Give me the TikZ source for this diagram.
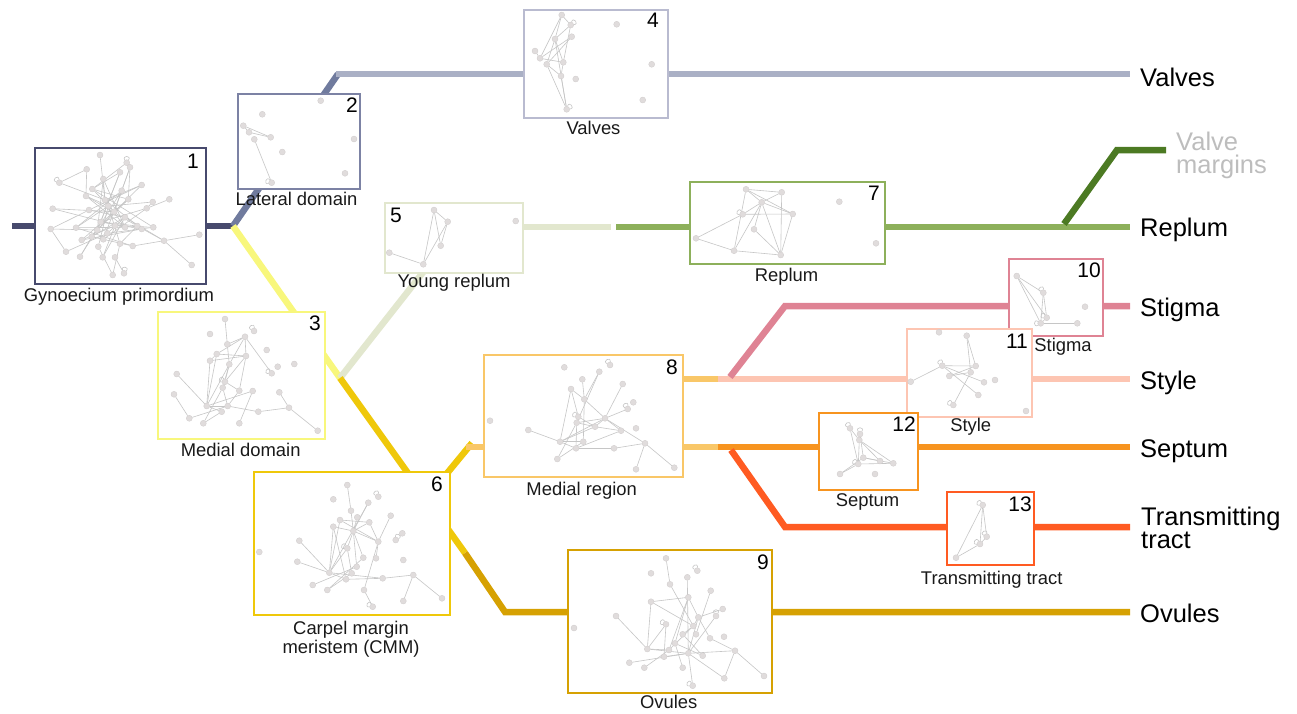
\documentclass[tikz,border=0pt]{standalone}
\usepackage{fontspec}
\setmainfont{Liberation Sans}
\usetikzlibrary{calc}

\definecolor{cNavy}{HTML}{474A6D}
\definecolor{cSlate}{HTML}{707B9E}
\definecolor{cSlateBox}{HTML}{7C82A4}
\definecolor{cValve}{HTML}{AAB0C5}
\definecolor{cValveBox}{HTML}{B9BBD0}
\definecolor{cYel}{HTML}{F8F77C}
\definecolor{cYoung}{HTML}{E2E7CE}
\definecolor{cGreen}{HTML}{8DB05B}
\definecolor{cDkGreen}{HTML}{4C7A23}
\definecolor{cGold}{HTML}{EFC80A}
\definecolor{cLtOr}{HTML}{F9C768}
\definecolor{cDkGold}{HTML}{D6A102}
\definecolor{cPink}{HTML}{DF8394}
\definecolor{cSalmon}{HTML}{FDC5B2}
\definecolor{cOrange}{HTML}{F7941F}
\definecolor{cRedOr}{HTML}{FF5B22}
\definecolor{cFaint}{HTML}{BDBDBD}
\definecolor{nodefill}{HTML}{E0DCDC}
\definecolor{nodeline}{HTML}{CFCBCB}
\definecolor{edgegray}{HTML}{C6C6C6}

\pgfdeclarelayer{links}
\pgfdeclarelayer{frames}
\pgfdeclarelayer{netedges}
\pgfsetlayers{links,frames,netedges,main}

\tikzset{
  link/.style={line width=6.5pt, line join=miter},
  stage/.style={draw, fill=white, line width=2pt, inner sep=0pt, anchor=north west},
  gn/.style={circle, fill=nodefill, draw=nodeline, line width=0.3pt, minimum size=6pt, inner sep=0pt},
  ge/.style={draw=edgegray, line width=0.6pt},
  capt/.style={font=\fontsize{18.4}{19}\selectfont, anchor=base, inner sep=0pt, text=black!90},
  stagenum/.style={font=\fontsize{21}{21}\selectfont, inner sep=0pt, text=black},
  tissue/.style={font=\fontsize{25.5}{23}\selectfont, anchor=base west, inner sep=0pt, align=left, text=black}
}

% network helpers: nodes, straight edges, self loops (names are <prefix>-<index>)
\newcommand\netnodes[2]{\foreach \i/\x/\y in {#2} {\node[gn] (#1-\i) at (\x,\y) {};}}
\newcommand\netlinks[2]{\begin{pgfonlayer}{netedges}\foreach \p/\q in {#2} {\draw[ge] (#1-\p) -- (#1-\q);}\end{pgfonlayer}}
\newcommand\netloops[2]{\begin{pgfonlayer}{netedges}\foreach \p/\a in {#2} {\pgfmathtruncatemacro\ao{\a-35}\pgfmathtruncatemacro\ai{\a+35}\draw[ge] (#1-\p) to[out=\ao,in=\ai,min distance=6pt] (#1-\p);}\end{pgfonlayer}}

\begin{document}
\begin{tikzpicture}[x=1pt,y=-1pt]
\useasboundingbox (0,0) rectangle (1297,713);

% ---------- stage frames ----------
\begin{pgfonlayer}{frames}
\node[stage, draw=cNavy, minimum width=171pt, minimum height=136pt] (b1) at (34,147) {};
\node[stage, draw=cSlateBox, minimum width=122pt, minimum height=95pt] (b2) at (237,93) {};
\node[stage, draw=cYel, minimum width=167pt, minimum height=127pt] (b3) at (157,311) {};
\node[stage, draw=cValveBox, minimum width=144pt, minimum height=108pt] (b4) at (523,9) {};
\node[stage, draw=cYoung, minimum width=138pt, minimum height=70pt] (b5) at (384,202) {};
\node[stage, draw=cGold, minimum width=196pt, minimum height=143pt] (b6) at (253,471) {};
\node[stage, draw=cGreen, minimum width=195pt, minimum height=82pt] (b7) at (689,181) {};
\node[stage, draw=cLtOr, minimum width=199pt, minimum height=122pt] (b8) at (483,354) {};
\node[stage, draw=cDkGold, minimum width=204pt, minimum height=143pt] (b9) at (567,549) {};
\node[stage, draw=cPink, minimum width=94pt, minimum height=77pt] (b10) at (1008,258) {};
\node[stage, draw=cSalmon, minimum width=125pt, minimum height=88pt] (b11) at (906,328) {};
\node[stage, draw=cOrange, minimum width=99pt, minimum height=77pt] (b12) at (818,412) {};
\node[stage, draw=cRedOr, minimum width=87pt, minimum height=73pt] (b13) at (946,491) {};
\end{pgfonlayer}

% ---------- lineage connectors ----------
\coordinate (s0) at (12,226);
\coordinate (j1) at (233,226);
\coordinate (v0) at (338,74);
\coordinate (v1) at (336,74);
\coordinate (vE) at (1130,74);
\coordinate (j2) at (340,378);
\coordinate (y1) at (428,266);
\coordinate (y2) at (500,227);
\coordinate (y3) at (611,227);
\coordinate (r0) at (616,227);
\coordinate (rE) at (1130,227);
\coordinate (m0) at (1064,224);
\coordinate (m1) at (1117,150);
\coordinate (mE) at (1166,150);
\coordinate (g1) at (465,553);
\coordinate (g2) at (505,612);
\coordinate (oE) at (1130,612);
\coordinate (u0) at (430,494);
\coordinate (u1) at (472,443);
\coordinate (u2) at (466,447);
\coordinate (u3) at (500,447);
\coordinate (h0) at (660,379);
\coordinate (h1) at (718,379);
\coordinate (h2) at (660,447);
\coordinate (h3) at (718,447);
\coordinate (p0) at (730,377);
\coordinate (p1) at (785,306);
\coordinate (pE) at (1130,306);
\coordinate (sE) at (1130,379);
\coordinate (oS) at (1130,447);
\coordinate (t0) at (731,450);
\coordinate (t1) at (785,527);
\coordinate (tE) at (1130,527);

\begin{pgfonlayer}{links}
\draw[link, cNavy] (s0) -- (j1);
\draw[link, cSlate] (j1) -- (v0);
\draw[link, cValve] (v1) -- (vE);
\draw[link, cYel] (j1) -- (j2);
\draw[link, cYoung] (j2) -- (y1);
\draw[link, cYoung] (y2) -- (y3);
\draw[link, cGreen] (r0) -- (rE);
\draw[link, cDkGreen] (m0) -- (m1) -- (mE);
\draw[link, cGold] (j2) -- (g1);
\draw[link, cDkGold] (g1) -- (g2) -- (oE);
\draw[link, cGold] (u0) -- (u1);
\draw[link, cLtOr] (u2) -- (u3);
\draw[link, cLtOr] (h0) -- (h1);
\draw[link, cLtOr] (h2) -- (h3);
\draw[link, cSalmon] (h1) -- (sE);
\draw[link, cOrange] (h3) -- (oS);
\draw[link, cPink] (p0) -- (p1) -- (pE);
\draw[link, cRedOr] (t0) -- (t1) -- (tE);
\end{pgfonlayer}

% ---------- 1: gynoecium primordium ----------
\netnodes{gp}{1/100/155, 2/126.7/162.7, 3/130/167.3, 4/86.7/169.3, 5/59.3/182.7, 6/103.3/179, 7/120/172.3, 8/141.7/185, 9/92.3/189, 10/121.7/190.7, 11/86/196, 12/105/200, 13/128.3/199.3, 14/152.7/202, 15/169.3/199.3, 16/52.7/208.7, 17/146.7/208.3, 18/89/210, 19/108.3/206, 20/125/217.3, 21/114.3/211.7, 22/100.7/222, 23/115/225.7, 24/125/227.3, 25/137.3/226, 26/153.3/227.3, 27/50.7/229, 28/76/227.7, 29/97.3/230, 30/107.3/233.3, 31/141.7/229, 32/81.7/240, 33/91.7/236.7, 34/103.3/239.3, 35/120/243.7, 36/132.7/246, 37/164/240.7, 38/199.3/234.7, 39/66/251.7, 40/80/256.7, 41/98.3/246.7, 42/102.7/257.3, 43/115/257.3, 44/191.7/265, 45/112.7/275, 46/124/273.3}
\netlinks{gp}{1/12, 4/5, 3/13, 3/10, 7/9, 7/22, 6/12, 6/29, 8/21, 8/18, 8/12, 14/19, 14/17, 16/24, 16/21, 27/29, 27/39, 27/18, 28/36, 28/24, 32/23, 33/36, 36/38, 37/44, 37/25, 39/30, 40/22, 41/45, 42/20, 43/46, 9/26, 10/40, 11/25, 13/32, 17/34, 19/41, 20/33, 21/9, 22/31, 23/26, 24/11, 26/30, 29/13, 30/20, 31/32, 34/10, 35/19, 35/25, 12/24, 18/20, 2/9, 3/21, 6/24, 7/29, 10/28, 12/31, 19/28, 22/25, 9/13, 11/19, 15/17, 17/22, 20/37, 21/29, 4/11, 5/12, 45/35, 42/23}
\netloops{gp}{2/90, 5/130, 46/80}

% ---------- 2: lateral domain ----------
\netnodes{ld}{1/320.7/100.7, 2/262.3/114.3, 3/243.3/125.7, 4/249/132.3, 5/270.7/137.3, 6/254.3/139.3, 7/282.3/152, 8/354/139, 9/345/173.3, 10/271.7/182.7}
\netlinks{ld}{3/5, 4/5, 3/4, 6/10}
\netloops{ld}{10/160}

% ---------- 3: medial domain ----------
\netnodes{md}{1/225/319, 2/210/334, 3/254/331, 4/245/336.7, 5/227.3/344.3, 6/266.7/350, 7/216.7/354, 8/210/360.7, 9/246/356, 10/229.3/364.3, 11/277.7/366.7, 12/294.3/364, 13/271.7/373.3, 14/176.7/374, 15/225/381.7, 16/222.7/387.7, 17/239.3/390.7, 18/252.7/391, 19/279.3/392.3, 20/174/394.3, 21/206.7/406, 22/227.7/406, 23/221.7/411.7, 24/258.3/411.7, 25/289/407.7, 26/189.3/418.3, 27/203.3/423.3, 28/239.3/423.3, 29/317.7/430.7}
\netlinks{md}{1/5, 5/10, 4/7, 4/9, 4/10, 4/13, 7/9, 8/9, 7/21, 8/21, 9/15, 10/21, 10/16, 14/21, 20/26, 21/18, 21/22, 21/23, 22/26, 23/27, 22/24, 24/25, 25/19, 25/29, 18/28, 15/17, 16/27, 17/22, 9/17, 7/8, 16/22, 5/4, 10/15}
\netloops{md}{3/120, 13/150, 15/150}

% ---------- 4: valves ----------
\netnodes{va}{1/561.7/15, 2/570.7/25, 3/555/39, 4/571.7/36.7, 5/535/51, 6/540/58.3, 7/546.7/64.3, 8/563.3/62.3, 9/561/76, 10/575.7/79, 11/566.7/109.3, 12/616.7/24.3, 13/651.7/64.3, 14/642.7/100}
\netlinks{va}{1/2, 1/3, 1/6, 2/3, 2/8, 3/7, 3/8, 4/7, 5/6, 6/8, 7/9, 7/11, 8/9, 9/11, 3/11, 4/6}
\netloops{va}{2/40, 11/40}

% ---------- 5: young replum ----------
\netnodes{yr}{1/434/210, 2/447.7/221.7, 3/515.7/221, 4/440.7/245.7, 5/389.3/252.7, 6/423.3/264.3}
\netlinks{yr}{1/2, 1/4, 1/6, 2/6, 2/4, 5/6}

% ---------- 6: carpel margin meristem ----------
\netnodes{cm}{1/347.3/485, 2/378.3/496.7, 3/333.3/499.3, 4/368.3/502.7, 5/351/510.7, 6/357.3/517.3, 7/340/520, 8/369.3/522.3, 9/390.7/515.7, 10/333.3/526.7, 11/353.3/531, 12/402.3/533.3, 13/395.7/540, 14/299.3/540.7, 15/378.3/541.7, 16/347.3/548.3, 17/259.3/552, 18/363.3/557.7, 19/376/558.3, 20/403.3/560, 21/297.3/561.7, 22/356.7/566.7, 23/351.7/573.3, 24/329.3/572.7, 25/346/579.3, 26/382.7/578.3, 27/413.3/575, 28/312.7/585, 29/327.3/590, 30/364/590, 31/403.3/601, 32/442/598.3, 33/372.7/606.7}
\netlinks{cm}{1/5, 4/11, 4/24, 9/15, 7/15, 7/8, 8/15, 10/24, 10/11, 11/15, 14/24, 21/24, 24/25, 24/26, 25/26, 26/27, 27/32, 27/31, 15/30, 30/33, 22/28, 23/29, 11/16, 16/24, 11/18, 11/22, 8/11, 5/11, 10/25, 15/19, 16/23, 7/24, 18/29, 6/11}
\netloops{cm}{2/120, 13/60, 16/150, 33/150}

% ---------- 7: replum ----------
\netnodes{rp}{1/746/189.3, 2/781.7/192.3, 3/761.7/202.3, 4/742.7/214.3, 5/792.7/214, 6/839.3/201.7, 7/754/229.3, 8/696/238.3, 9/734/250.7, 10/780.7/255, 11/876/243.3}
\netlinks{rp}{1/2, 1/3, 1/5, 1/9, 2/3, 2/10, 3/4, 3/5, 3/7, 3/9, 3/10, 4/5, 4/8, 8/9, 9/10, 7/10, 5/10}
\netloops{rp}{4/150}

% ---------- 8: medial region ----------
\netnodes{mr}{1/610/365, 2/564.3/367.3, 3/599.3/371.7, 4/582.3/379.3, 5/622.7/384, 6/571/389, 7/584.3/399.3, 8/633.3/402.3, 9/627.7/409, 10/490/420.7, 11/578.3/416.7, 12/605/418.3, 13/576.7/422.7, 14/595/426.7, 15/636/428.3, 16/528.3/430, 17/621/430.7, 18/560/441.7, 19/583.3/441.7, 20/645/443.3, 21/576/448.3, 22/614/448.3, 23/557.3/459, 24/636/469.3, 25/674.3/467.7}
\netlinks{mr}{3/7, 3/13, 4/7, 6/7, 6/18, 6/11, 7/12, 7/19, 5/12, 9/12, 12/13, 12/14, 12/17, 12/18, 12/20, 16/18, 18/19, 18/21, 21/22, 22/20, 20/24, 20/25, 13/23, 13/21, 14/18, 17/21, 11/14, 23/19, 14/17, 13/14}
\netloops{mr}{1/120, 9/120, 11/150}

% ---------- 9: ovules ----------
\netnodes{ov}{1/666/558.3, 2/697.3/570.7, 3/651/573.3, 4/687.3/577.3, 5/670/584.3, 6/710.7/590.7, 7/688.3/597.3, 8/651/601.7, 9/722.7/609, 10/616/616, 11/698.3/617.3, 12/716/616, 13/574/628, 14/666/624.3, 15/693.3/626, 16/682.7/634.3, 17/696/634.3, 18/710/638.3, 19/724/636.7, 20/675/643.3, 21/647.3/649, 22/669/650, 23/688.3/653.3, 24/735/650.7, 25/664/656.7, 26/702.7/655.7, 27/629.3/662.7, 28/644.3/667.7, 29/682.7/667.7, 30/724.3/678.3, 31/764/676, 32/692.7/685.7}
\netlinks{ov}{1/5, 5/15, 4/23, 8/7, 8/21, 8/15, 10/21, 21/23, 21/22, 7/20, 7/11, 6/17, 7/22, 14/21, 14/25, 25/23, 23/24, 24/30, 24/31, 23/30, 27/23, 28/22, 29/20, 23/32, 15/11, 11/18, 18/24, 22/15, 23/12, 16/26, 20/26, 15/16, 11/23, 9/11}
\netloops{ov}{2/120, 12/90, 14/150, 32/150}

% ---------- 10: stigma ----------
\netnodes{sg}{1/1016.7/276, 2/1043.3/292.7, 3/1085/306.7, 4/1046.7/317.7, 5/1040.7/323.3, 6/1077.3/323.3}
\netlinks{sg}{1/2, 1/4, 1/5, 2/5, 2/4, 5/6, 4/5}
\netloops{sg}{2/120, 4/150, 5/180}

% ---------- 11: style ----------
\netnodes{st}{1/939/332.3, 2/966.7/335.7, 3/942.3/365.7, 4/975.7/366, 5/970.7/372.3, 6/949.3/376, 7/910.7/381.7, 8/984/382.3, 9/995/380, 10/978.3/395, 11/953.3/405, 12/1026/411}
\netlinks{st}{2/4, 2/5, 3/4, 3/7, 3/8, 3/10, 6/5, 5/11, 6/4}
\netloops{st}{3/120, 11/150}

% ---------- 12: septum ----------
\netnodes{sp}{1/850/428.3, 2/860/434, 3/859.3/440, 4/863.3/457.7, 5/858.3/464, 6/880/461, 7/893.3/463.3, 8/840/474, 9/875/474}
\netlinks{sp}{1/3, 2/4, 3/5, 3/6, 3/7, 1/5, 4/7, 5/7, 5/8, 4/8, 4/6}
\netloops{sp}{1/120, 2/90, 5/150}

% ---------- 13: transmitting tract ----------
\netnodes{tt}{1/982.7/505, 2/986.7/536.7, 3/980/544, 4/956/557.7}
\netlinks{tt}{1/2, 1/3, 1/4, 2/3, 3/4}
\netloops{tt}{1/150, 2/120, 3/150}

% ---------- stage numbers ----------
\node[stagenum, anchor=north east] (n1) at ([xshift=-8pt,yshift=-7pt]b1.north east) {1};
\node[stagenum, anchor=north east] (n2) at ([xshift=-3pt,yshift=-5pt]b2.north east) {2};
\node[stagenum, anchor=north east] (n3) at ([xshift=-5pt,yshift=-5pt]b3.north east) {3};
\node[stagenum, anchor=north east] (n4) at ([xshift=-10pt,yshift=-4pt]b4.north east) {4};
\node[stagenum, anchor=north west] (n5) at ([xshift=6pt,yshift=-6pt]b5.north west) {5};
\node[stagenum, anchor=north east] (n6) at ([xshift=-8pt,yshift=-6pt]b6.north east) {6};
\node[stagenum, anchor=north east] (n7) at ([xshift=-6pt,yshift=-5pt]b7.north east) {7};
\node[stagenum, anchor=north east] (n8) at ([xshift=-6pt,yshift=-6pt]b8.north east) {8};
\node[stagenum, anchor=north east] (n9) at ([xshift=-4pt,yshift=-6pt]b9.north east) {9};
\node[stagenum, anchor=north east] (n10) at ([xshift=-3pt,yshift=-5pt]b10.north east) {10};
\node[stagenum, anchor=north east] (n11) at ([xshift=-5pt,yshift=-6pt]b11.north east) {11};
\node[stagenum, anchor=north east] (n12) at ([xshift=-3pt,yshift=-5pt]b12.north east) {12};
\node[stagenum, anchor=north east] (n13) at ([xshift=-3pt,yshift=-6pt]b13.north east) {13};

% ---------- stage captions ----------
\node[capt] (c1) at (119,301) {Gynoecium primordium};
\node[capt] (c2) at (296.5,205) {Lateral domain};
\node[capt] (c3) at (240.7,456) {Medial domain};
\node[capt] (c4) at (593.5,134) {Valves};
\node[capt] (c5) at (454,287) {Young replum};
\node[capt, align=center] (c6) at (351,653) {Carpel margin\\meristem (CMM)};
\node[capt] (c7) at (786.5,281) {Replum};
\node[capt] (c8) at (581.7,495) {Medial region};
\node[capt] (c9) at (668.7,708) {Ovules};
\node[capt] (c10) at (1063,351) {Stigma};
\node[capt] (c11) at (970.7,431) {Style};
\node[capt] (c12) at (867.5,506) {Septum};
\node[capt] (c13) at (991.7,584) {Transmitting tract};

% ---------- final tissues ----------
\node[tissue] (f1) at (1140,86) {Valves};
\node[tissue, text=cFaint] (f2) at (1176,173) {Valve\\margins};
\node[tissue] (f3) at (1140,236) {Replum};
\node[tissue] (f4) at (1140,316) {Stigma};
\node[tissue] (f5) at (1140,389) {Style};
\node[tissue] (f6) at (1140,457) {Septum};
\node[tissue] (f7) at (1141,548) {Transmitting\\tract};
\node[tissue] (f8) at (1140,622) {Ovules};
\end{tikzpicture}
\end{document}
